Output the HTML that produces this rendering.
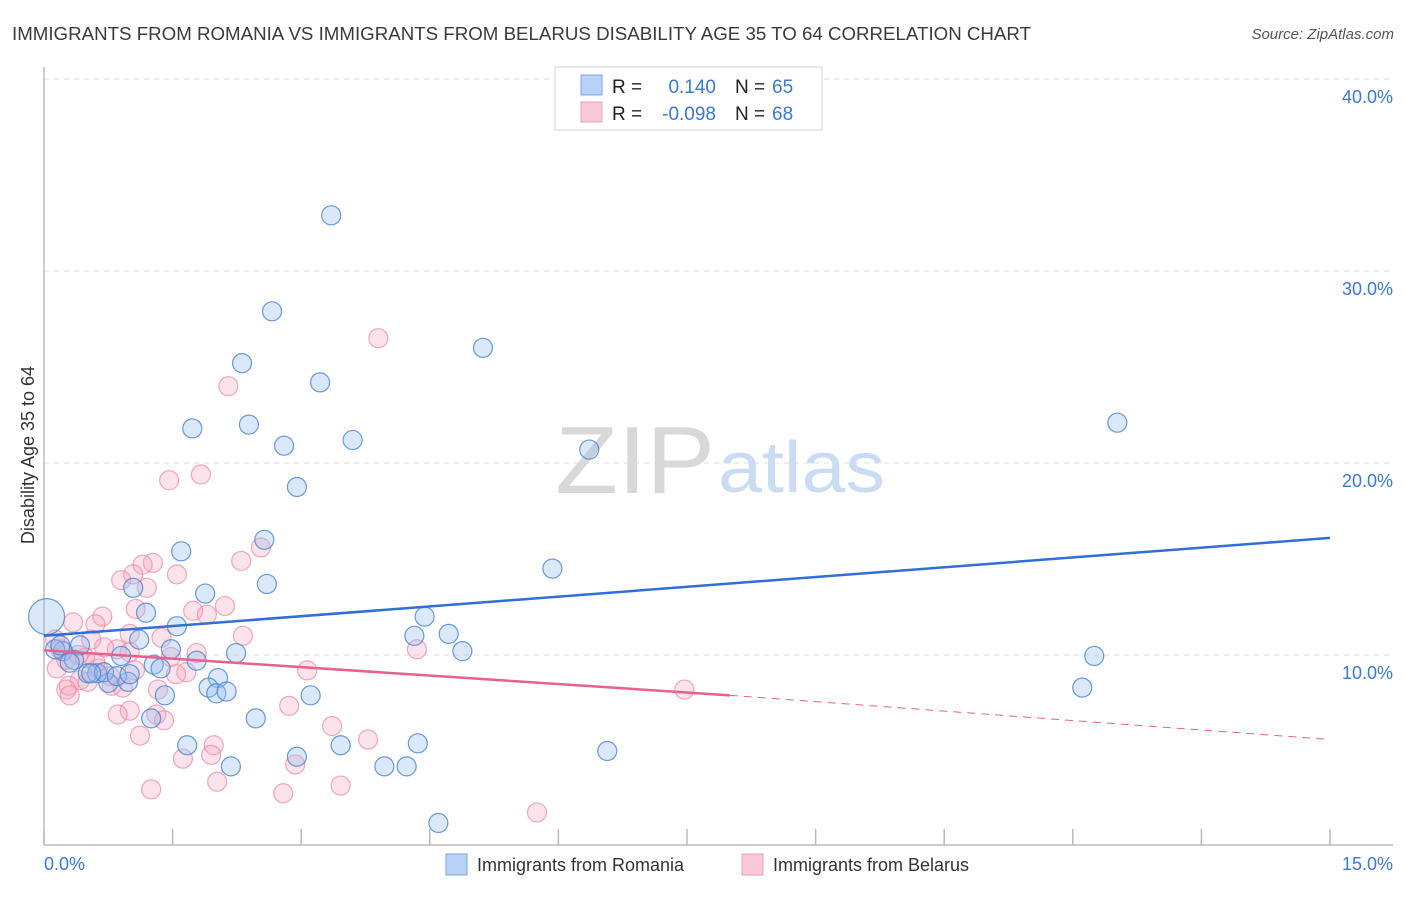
<!DOCTYPE html>
<html><head><meta charset="utf-8"><style>
body{margin:0;background:#fff;font-family:"Liberation Sans",sans-serif}
svg text{font-family:"Liberation Sans",sans-serif}
</style></head><body>
<svg width="1406" height="892" xmlns="http://www.w3.org/2000/svg">
<text x="12" y="40" font-size="18" fill="#3a3a3a" textLength="1019" lengthAdjust="spacingAndGlyphs">IMMIGRANTS FROM ROMANIA VS IMMIGRANTS FROM BELARUS DISABILITY AGE 35 TO 64 CORRELATION CHART</text>
<text x="1394" y="39" font-size="15" fill="#555" font-style="italic" text-anchor="end">Source: ZipAtlas.com</text>
<g>
<text x="555" y="493" font-size="96" fill="#d8d8d8" font-family="Liberation Serif, serif" textLength="160" lengthAdjust="spacingAndGlyphs">ZIP</text>
<text x="718" y="492" font-size="72" fill="#c9dcf3" textLength="167" lengthAdjust="spacingAndGlyphs">atlas</text>
</g>
<g id="grid"></g>
<g id="axes"></g>
<g id="marks"></g>
<g id="trend"></g>
<text x="34" y="455" font-size="18" fill="#333" text-anchor="middle" transform="rotate(-90 34 455)">Disability Age 35 to 64</text>
<text x="44" y="870" font-size="18" fill="#3a78d4">0.0%</text>
<text x="1393" y="870" font-size="18" fill="#3a78d4" text-anchor="end">15.0%</text>
<g>
<rect x="555" y="67" width="267" height="63" fill="#fff" stroke="#d4d4d4"/>
<rect x="581" y="75" width="21" height="20" fill="#b8d2f5" stroke="#7aa5e0"/>
<rect x="581" y="102" width="21" height="20" fill="#f9c9d7" stroke="#efa0b8"/>
<text x="612" y="93" font-size="19" fill="#222">R =</text>
<text x="716" y="93" font-size="19" fill="#3a78d4" text-anchor="end">0.140</text>
<text x="735" y="93" font-size="19" fill="#222">N =</text>
<text x="772" y="93" font-size="19" fill="#3a78d4">65</text>
<text x="612" y="120" font-size="19" fill="#222">R =</text>
<text x="716" y="120" font-size="19" fill="#3a78d4" text-anchor="end">-0.098</text>
<text x="735" y="120" font-size="19" fill="#222">N =</text>
<text x="772" y="120" font-size="19" fill="#3a78d4">68</text>
</g>
<g>
<rect x="446" y="854" width="21" height="21" fill="#b8d2f5" stroke="#7aa5e0"/>
<text x="477" y="871" font-size="18" fill="#333">Immigrants from Romania</text>
<rect x="742" y="854" width="21" height="21" fill="#f9c9d7" stroke="#efa0b8"/>
<text x="773" y="871" font-size="18" fill="#333">Immigrants from Belarus</text>
</g>
</svg>
<script>
const yTicks=[10,20,30,40];
const yTickLabels=["10.0%","20.0%","30.0%","40.0%"];
const xTicks=[0,1.5,3,4.5,6,7.5,9,10.5,12,13.5,15];
const blueX=[3.35,2.66,2.31,3.22,5.12,1.73,2.39,2.80,3.60,6.36,2.95,12.52,2.57,1.60,2.60,5.93,1.04,1.88,1.19,1.55,4.44,4.72,4.32,1.11,4.88,2.24,1.48,0.42,0.22,0.90,1.28,1.36,1.78,12.25,12.11,2.03,1.92,2.01,2.13,3.11,0.98,0.75,0.62,0.51,0.35,2.47,1.25,1.67,2.95,3.46,4.36,2.18,3.97,4.23,6.57,4.60,0.13,1.41,0.19,0.03,0.30,0.70,0.55,0.85,1.00];
const blueY=[32.9,27.9,25.2,24.2,26.0,21.8,22.0,20.9,21.2,20.7,18.75,22.1,16.0,15.4,13.7,14.5,13.5,13.2,12.2,11.5,12.0,11.1,11.0,10.8,10.2,10.1,10.3,10.5,10.2,9.95,9.5,9.3,9.7,9.95,8.3,8.8,8.3,8.0,8.1,7.9,8.6,8.55,9.05,9.05,9.75,6.7,6.7,5.3,4.7,5.3,5.4,4.2,4.2,4.2,5.0,1.25,10.3,7.9,10.5,12.0,9.6,9.1,9.05,8.9,9.0];
const pinkX=[3.90,2.15,1.83,1.46,2.53,2.30,1.27,1.15,1.55,1.04,0.90,1.20,2.11,1.74,1.90,1.07,0.68,0.34,0.60,2.32,1.37,1.00,0.55,1.78,1.48,0.85,0.70,4.35,3.07,1.66,1.54,1.06,0.63,0.15,0.77,0.42,0.51,0.79,0.29,0.26,0.30,0.92,1.33,7.47,2.86,1.00,0.86,1.31,1.40,3.36,1.12,3.78,1.98,1.95,1.62,2.93,2.02,3.46,1.25,2.79,5.75,0.19,0.13,0.48,1.00,0.26,0.40,0.60];
const pinkY=[26.5,24.0,19.4,19.1,15.6,14.9,14.8,14.7,14.2,14.2,13.9,13.5,12.55,12.3,12.1,12.4,12.0,11.7,11.6,11.0,10.9,11.1,10.8,10.1,9.9,10.3,10.4,10.3,9.2,9.1,9.0,9.2,9.3,9.3,8.9,8.7,8.6,8.4,8.4,8.2,7.9,8.3,8.2,8.2,7.35,7.1,6.9,6.9,6.6,6.3,5.8,5.6,5.3,4.8,4.6,4.3,3.4,3.2,3.0,2.8,1.8,10.3,10.8,9.85,10.15,9.75,10.0,9.6];
const blueTrend=[[0,11.0],[15,16.1]];
const pinkTrend=[[0,10.25],[8,7.9],[15,5.6]];
const NS="http://www.w3.org/2000/svg";
const X=v=>44+v*(1286/15);
const Y=v=>847-v*19.2;
function mk(tag,attrs,parent){const e=document.createElementNS(NS,tag);for(const k in attrs)e.setAttribute(k,attrs[k]);document.getElementById(parent).appendChild(e);return e;}
yTicks.forEach((t,i)=>{
 const l=mk('line',{x1:44,x2:1393,y1:Y(t),y2:Y(t),stroke:'#dcdcdc','stroke-dasharray':'5,5'},'grid');
 
 
 const tx=mk('text',{x:1393,y:Y(t)+24,'font-size':18,fill:'#3a78d4','text-anchor':'end'},'grid');
 tx.textContent=yTickLabels[i];
 
 
});
const ax=mk('line',{x1:44,x2:44,y1:67,y2:845,stroke:'#bbb','stroke-width':1.5},'axes');


const bx=mk('line',{x1:44,x2:1393,y1:845,y2:845,stroke:'#bbb','stroke-width':1.5},'axes');


xTicks.forEach(t=>{
 const l=mk('line',{x1:X(t),x2:X(t),y1:829,y2:845,stroke:'#bbb','stroke-width':1.5},'axes');
 
 
});
function dots(xs,ys,fill,stroke,name){
 xs.forEach((x,i)=>{
  const big=(x<0.1&&ys[i]>11.5);
  const c=mk('circle',{cx:X(x),cy:Y(ys[i]),r:big?18:9.5,fill:fill,stroke:stroke,'stroke-width':1.2},'marks');
  
  
 });
}
dots(pinkX,pinkY,'rgba(244,160,186,0.3)','rgba(236,140,170,0.75)','belarus-point');
dots(blueX,blueY,'rgba(150,188,238,0.35)','rgba(70,130,215,0.8)','romania-point');
const bt=mk('line',{x1:X(blueTrend[0][0]),y1:Y(blueTrend[0][1]),x2:X(blueTrend[1][0]),y2:Y(blueTrend[1][1]),stroke:'#2f6fd6','stroke-width':2.5},'trend');


const pt=mk('line',{x1:X(pinkTrend[0][0]),y1:Y(pinkTrend[0][1]),x2:X(pinkTrend[1][0]),y2:Y(pinkTrend[1][1]),stroke:'#e8608c','stroke-width':2.5},'trend');


const pd=mk('line',{x1:X(pinkTrend[1][0]),y1:Y(pinkTrend[1][1]),x2:X(pinkTrend[2][0]),y2:Y(pinkTrend[2][1]),stroke:'#e8608c','stroke-width':1,'stroke-dasharray':'8,6'},'trend');


</script>
</body></html>
